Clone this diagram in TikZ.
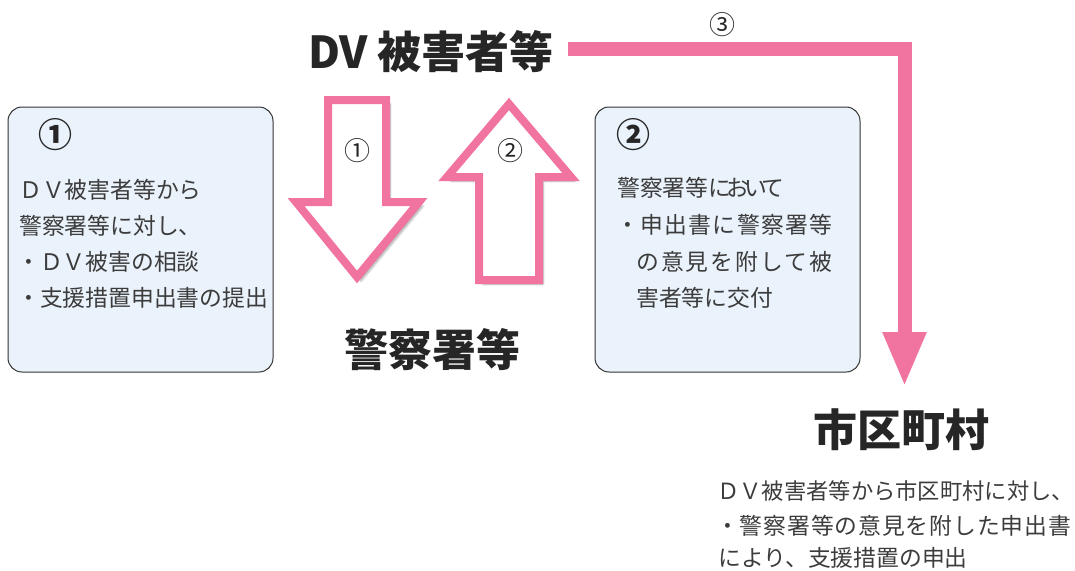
\documentclass[tikz,border=0pt]{standalone}
\usepackage{fontspec}
\setmainfont{Noto Sans CJK JP}
\usetikzlibrary{arrows.meta,shadows.blur}
\definecolor{pinkc}{RGB}{240,115,160}
\definecolor{boxfill}{RGB}{234,242,251}
\definecolor{txtc}{RGB}{60,60,60}
\newcommand\kk{\kern-5pt}
\tikzset{
  infobox/.style={draw=black!80, line width=1pt, fill=boxfill, rounded corners=14pt,
    minimum width=265pt, minimum height=265pt, inner sep=0pt},
  bigtitle/.style={font=\bfseries\fontsize{44}{50}\selectfont, text=black!85, inner sep=0pt},
  body/.style={font=\fontsize{22.8}{26}\selectfont, text=txtc, anchor=west, inner sep=0pt},
  boxnum/.style={font=\bfseries\fontsize{34}{36}\selectfont, text=black!85, inner sep=0pt},
  arrnum/.style={font=\fontsize{26}{28}\selectfont, text=black!85, inner sep=0pt},
  bigarrow/.style={draw=pinkc, line width=8pt, fill=white, line join=miter,
    blur shadow={shadow xshift=4pt, shadow yshift=-4pt, shadow blur steps=6, shadow opacity=35}},
  flow/.style={draw=pinkc, line width=14pt, line join=miter,
    -{Triangle[width=40pt,length=55pt]}}
}
\begin{document}
\begin{tikzpicture}[x=1pt,y=-1pt]
\useasboundingbox (0,0) rectangle (1075,570);
% titles
\node[bigtitle] (dv) at (431,52) {DV 被害者等};
\node[bigtitle] (police) at (432,350) {警察署等};
\node[bigtitle] (city) at (901,430) {市区町村};
% boxes
\node[infobox] (box1) at (140.5,239.5) {};
\node[infobox] (box2) at (727.5,239.5) {};
\node[boxnum] (n1) at (55,135) {①};
\node[boxnum] (n2) at (633,135) {②};
\node[body] (b1a) at (19,190) {ＤＶ被害者等から};
\node[body] (b1b) at (19,226) {警察署等に対し、};
\node[body] (b1c) at (17,262) {・ＤＶ被害の相談};
\node[body] (b1d) at (17,298) {・支援措置申出書の提出};
\node[body] (b2a) at (617,188) {警察署等に\kk お\kk い\kk て};
\node[body] (b2b) at (616,225) {\addfontfeature{LetterSpace=6}・申出書に警察署等};
\node[body] (b2c) at (636,262) {\addfontfeature{LetterSpace=9}の意見を附して被};
\node[body] (b2d) at (636,298) {害者等に交付};
% big hollow arrows
\draw[bigarrow] (328,100) -- (386,100) -- (386,202) -- (419,202) -- (357,277)
  -- (296,202) -- (328,202) -- cycle;
\draw[bigarrow] (509,104) -- (571,177) -- (539,177) -- (539,280) -- (479,280)
  -- (479,177) -- (447,177) -- cycle;
\node[arrnum] (a1) at (357,151) {①};
\node[arrnum] (a2) at (510,151) {②};
% connector 3
\coordinate (p3s) at (568,49);
\coordinate (p3e) at (904.5,387);
\draw[flow] (p3s) -| (p3e);
\node[arrnum] (a3) at (722,25) {③};
% bottom text
\node[body, font=\fontsize{22.3}{26}\selectfont] (c1) at (717,491) {ＤＶ被害者等から市区町村に対し、};
\node[body] (c2) at (716,526) {\addfontfeature{LetterSpace=4}・警察署等の意見を附した申出書};
\node[body] (c3) at (718,558) {により、支援措置の申出};
\end{tikzpicture}
\end{document}
